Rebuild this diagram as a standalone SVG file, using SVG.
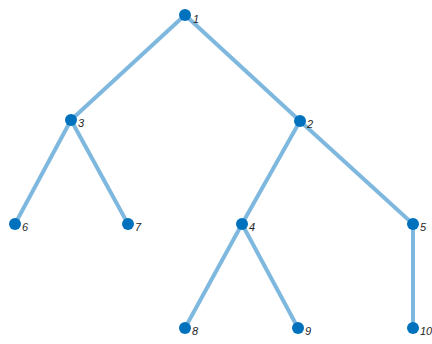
<svg xmlns="http://www.w3.org/2000/svg" width="432" height="344" viewBox="0 0 432 344">
<style>
.e{stroke:#0072BD;stroke-opacity:0.5;stroke-width:4;fill:none}
.n circle{fill:#0072BD}
.n text{font-family:"Liberation Sans",Arial,sans-serif;font-size:11px;font-style:italic;fill:#262626}
</style>
<rect width="432" height="344" fill="#fff"/>
<g id="edges">
<line class="e" x1="185" y1="15" x2="71" y2="120"/>
<line class="e" x1="185" y1="15" x2="300" y2="121"/>
<line class="e" x1="71" y1="120" x2="15" y2="224"/>
<line class="e" x1="71" y1="120" x2="128" y2="224"/>
<line class="e" x1="300" y1="121" x2="242" y2="224"/>
<line class="e" x1="300" y1="121" x2="413" y2="224"/>
<line class="e" x1="242" y1="224" x2="185" y2="328"/>
<line class="e" x1="242" y1="224" x2="298" y2="328"/>
<line class="e" x1="413" y1="224" x2="413" y2="328"/>
</g>
<g id="n1" class="n"><circle cx="185" cy="15" r="6"/><text x="193" y="23">1</text></g>
<g id="n2" class="n"><circle cx="300" cy="121" r="6"/><text x="307" y="128">2</text></g>
<g id="n3" class="n"><circle cx="71" cy="120" r="6"/><text x="78" y="127">3</text></g>
<g id="n4" class="n"><circle cx="242" cy="224" r="6"/><text x="249" y="231">4</text></g>
<g id="n5" class="n"><circle cx="413" cy="224" r="6"/><text x="420" y="231">5</text></g>
<g id="n6" class="n"><circle cx="15" cy="224" r="6"/><text x="22" y="231">6</text></g>
<g id="n7" class="n"><circle cx="128" cy="224" r="6"/><text x="135" y="231">7</text></g>
<g id="n8" class="n"><circle cx="185" cy="328" r="6"/><text x="192" y="335">8</text></g>
<g id="n9" class="n"><circle cx="298" cy="328" r="6"/><text x="305" y="335">9</text></g>
<g id="n10" class="n"><circle cx="413" cy="328" r="6"/><text x="420" y="335">10</text></g>
</svg>
